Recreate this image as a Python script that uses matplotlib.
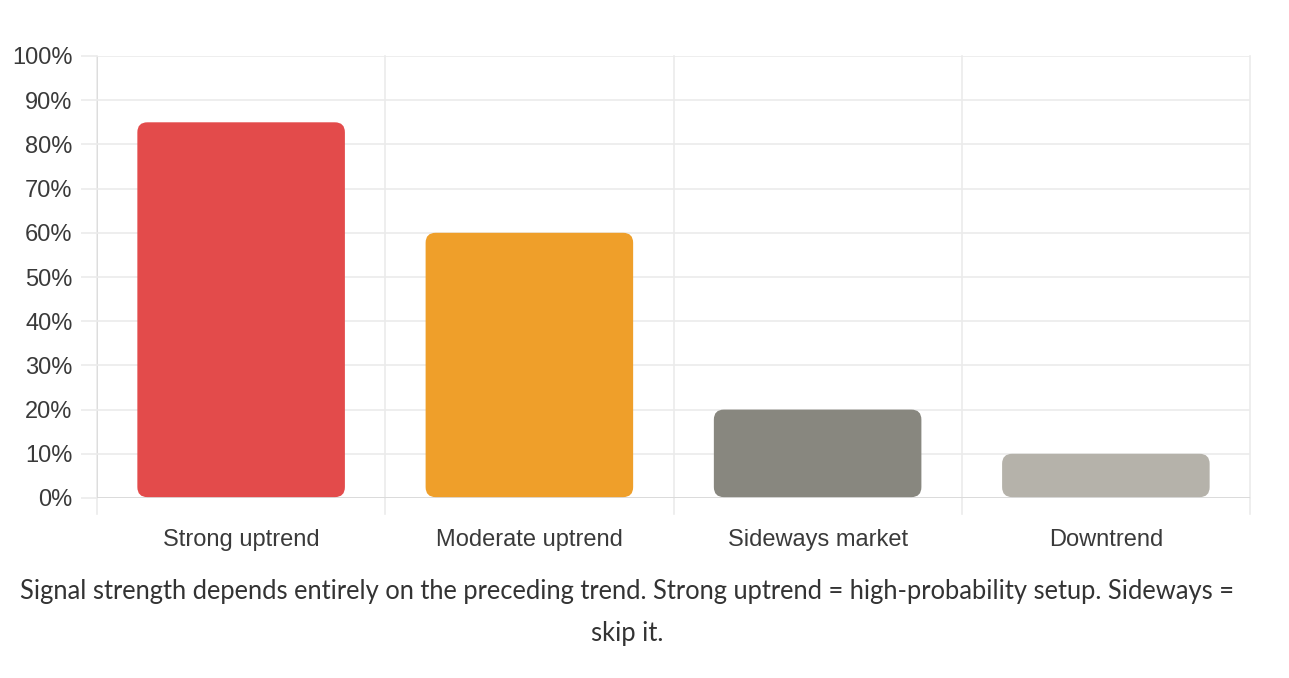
import numpy as np
import matplotlib
matplotlib.use("Agg")
import matplotlib.pyplot as plt
from matplotlib.patches import FancyBboxPatch
from matplotlib.ticker import FuncFormatter, MultipleLocator

# Data
categories = ["Strong uptrend", "Moderate uptrend", "Sideways market", "Downtrend"]
values = [85, 60, 20, 10]
colors = ["#E34B4B", "#EF9F2A", "#88877F", "#B5B2AA"]
caption_lines = [
    "Signal strength depends entirely on the preceding trend. Strong uptrend = high-probability setup. Sideways =",
    "skip it.",
]

W, H = 1289, 678
fig = plt.figure(figsize=(W / 100, H / 100), dpi=100)
# axes box in pixels: left 97, right 1250, top 56, bottom 498
ax = fig.add_axes([97 / W, 1 - 498 / H, (1250 - 97) / W, (498 - 56) / H])

grid_c = "#EBEBEB"
text_c = "#3A3A3A"

x = np.arange(len(categories))
bar_w = 0.72
ax.set_xlim(-0.5, len(categories) - 0.5)
ax.set_ylim(0, 100)

# rounded bars; scale rounding so corners look circular in pixels
px_per_x = (1250 - 97) / len(categories)
px_per_y = (498 - 56) / 100
r_px = 10
r_x = r_px / px_per_x
aspect = (r_px / px_per_y) / r_x
for xi, v, c in zip(x, values, colors):
    p = FancyBboxPatch((xi - bar_w / 2, 0.2), bar_w, v - 0.2,
                       boxstyle=f"round,pad=0,rounding_size={r_x}",
                       mutation_aspect=aspect, facecolor=c, edgecolor="none", zorder=3)
    ax.add_patch(p)

# grid
ax.yaxis.set_major_locator(MultipleLocator(10))
ax.yaxis.set_major_formatter(FuncFormatter(lambda v, _: f"{v:.0f}%"))
ax.grid(axis="y", color=grid_c, linewidth=1.2, zorder=0)
for b in np.arange(-0.5, len(categories), 1):
    ax.plot([b, b], [0, 100], color=grid_c, linewidth=1.2, zorder=0, clip_on=False)
    ax.plot([b, b], [0, -16 / px_per_y], color=grid_c, linewidth=1.2, zorder=0, clip_on=False)
ax.axhline(0, color="#D6D6D6", linewidth=1.8, zorder=2)
ax.plot([-0.5, -0.5], [0, 100], color="#DDDDDD", linewidth=1.4, zorder=1)

for s in ax.spines.values():
    s.set_visible(False)

ax.set_xticks(x)
ax.set_xticklabels(categories)
ax.tick_params(axis="x", length=0, pad=22, labelsize=17, labelcolor=text_c)
ax.tick_params(axis="y", length=11.5, width=1.2, color=grid_c, pad=6,
               labelsize=17, labelcolor=text_c)
for lab in ax.get_xticklabels() + ax.get_yticklabels():
    lab.set_fontfamily("Liberation Sans")

fig.text(627 / W, 1 - 592 / H, caption_lines[0], ha="center", va="center",
         fontsize=18.4, color="#333333", family="Lato")
fig.text(627 / W, 1 - 634 / H, caption_lines[1], ha="center", va="center",
         fontsize=18.4, color="#333333", family="Lato")

fig.savefig("out.png", dpi=100)
